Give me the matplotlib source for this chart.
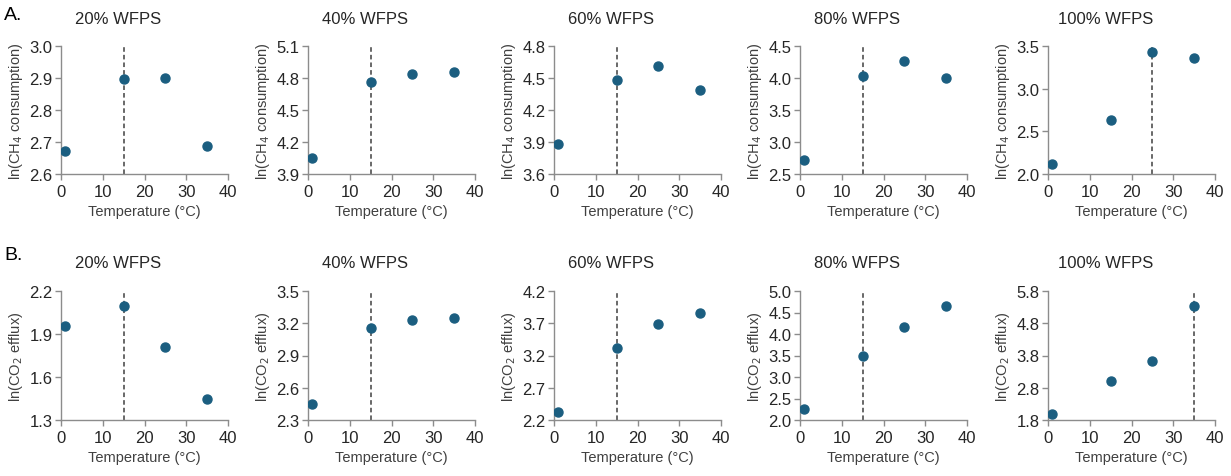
import matplotlib
matplotlib.use("Agg")
import matplotlib.pyplot as plt

plt.rcParams['font.family'] = ['Liberation Sans', 'DejaVu Sans']

temps = [1, 15, 25, 35]
wfps_titles = ["20% WFPS", "40% WFPS", "60% WFPS", "80% WFPS", "100% WFPS"]

# A. ln(CH4 consumption)
ch4_20 = [2.673, 2.897, 2.901, 2.689]
ch4_40 = [4.05, 4.76, 4.834, 4.853]
ch4_60 = [3.881, 4.484, 4.616, 4.391]
ch4_80 = [2.714, 4.036, 4.266, 4.0]
ch4_100 = [2.121, 2.629, 3.426, 3.363]
ch4_opt = [15, 15, 15, 15, 25]
ch4_lims = [(2.6, 3.0, 0.1), (3.9, 5.1, 0.3), (3.6, 4.8, 0.3), (2.5, 4.5, 0.5), (2.0, 3.5, 0.5)]

# B. ln(CO2 efflux)
co2_20 = [1.955, 2.095, 1.81, 1.447]
co2_40 = [2.45, 3.157, 3.232, 3.248]
co2_60 = [2.325, 3.32, 3.686, 3.857]
co2_80 = [2.25, 3.49, 4.17, 4.65]
co2_100 = [1.99, 3.0, 3.64, 5.33]
co2_opt = [15, 15, 15, 15, 35]
co2_lims = [(1.3, 2.2, 0.3), (2.3, 3.5, 0.3), (2.2, 4.2, 0.5), (2.0, 5.0, 0.5), (1.8, 5.8, 1.0)]

ch4_rows = [ch4_20, ch4_40, ch4_60, ch4_80, ch4_100]
co2_rows = [co2_20, co2_40, co2_60, co2_80, co2_100]

W, H = 1231, 477
fig = plt.figure(figsize=(W / 100, H / 100), dpi=100)

lefts = [61, 308, 554, 800, 1048]
ax_w = 167
rows = [
    dict(top=47, bottom=175, data=ch4_rows, opt=ch4_opt, lims=ch4_lims,
         ylabel="ln(CH$_4$ consumption)", letter="A.", letter_y=15, title_y=19),
    dict(top=292, bottom=421, data=co2_rows, opt=co2_opt, lims=co2_lims,
         ylabel="ln(CO$_2$ efflux)", letter="B.", letter_y=256, title_y=264),
]

dot = "#1b5e80"
grey = "#8c8c8c"

for row in rows:
    fig.text(4 / W, 1 - row["letter_y"] / H, row["letter"], fontsize=14,
             ha="left", va="center")
    for i in range(5):
        left = lefts[i]
        ax = fig.add_axes([left / W, 1 - row["bottom"] / H, ax_w / W,
                           (row["bottom"] - row["top"]) / H])
        lo, hi, step = row["lims"][i]
        ax.axvline(row["opt"][i], color="#404040", lw=1.1, ls=(0, (3, 2)), zorder=1)
        ax.plot(temps, row["data"][i], "o", color=dot, ms=6.5, zorder=3)
        ax.set_xlim(0, 40)
        ax.set_ylim(lo, hi)
        ax.set_xticks([0, 10, 20, 30, 40])
        n = int(round((hi - lo) / step))
        ax.set_yticks([lo + k * step for k in range(n + 1)])
        ax.yaxis.set_major_formatter(matplotlib.ticker.FormatStrFormatter("%.1f"))
        for s in ["top", "right"]:
            ax.spines[s].set_visible(False)
        for s in ["left", "bottom"]:
            ax.spines[s].set_color(grey)
            ax.spines[s].set_linewidth(1.0)
        ax.tick_params(axis="both", colors=grey, length=4, width=1.0,
                       labelsize=12, labelcolor="#262626")
        ax.tick_params(axis="y", pad=2)
        ax.tick_params(axis="x", pad=3)
        ax.set_xlabel("Temperature (°C)", fontsize=10.5, color="#404040", labelpad=4)
        ax.set_ylabel(row["ylabel"], fontsize=10.5, color="#404040", labelpad=3)
        fig.text((left + ax_w / 2 - 26) / W, 1 - row["title_y"] / H,
                 wfps_titles[i], fontsize=12, ha="center", va="center",
                 color="#262626")

fig.savefig("out.png", dpi=100)
